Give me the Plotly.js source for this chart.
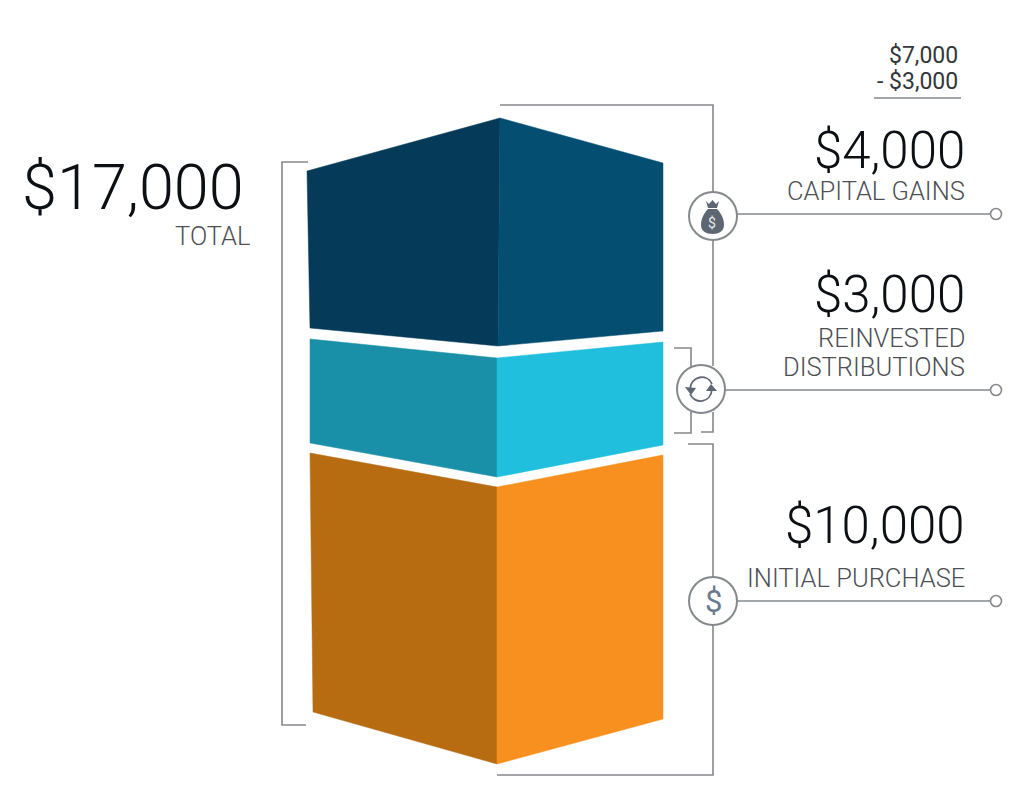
<!DOCTYPE html>
<html>
<head>
<meta charset="utf-8">
<script src="https://cdn.plot.ly/plotly-3.0.1.min.js"></script>
<style>html,body{margin:0;padding:0;background:#fff}#c{width:1024px;height:800px}</style>
</head>
<body>
<div id="c"></div>
<script>
// Segment faces
var faceNames = ['Capital gains left','Capital gains right','Reinvested left','Reinvested right','Purchase left','Purchase right'];
var faceColors = ['#053b58','#044e72','#1a90a8','#20bfde','#b76c12','#f7901e'];
var faceX = [
  [307,500,498,310],[500,663,663,498],
  [310,497,497,310],[497,663,663,497],
  [310,497,497,313],[497,663,663,497]
];
var faceY = [
  [171,118,346,328],[118,163,331,346],
  [339,358,477,443],[358,342,445,477],
  [453,487,764,712],[487,455,719,764]
];

// Bracket and connector lines
var lineGrey = '#85888c';
var linesX = [
  [308,282,282,306],
  [500,713,713],
  [674,691,691],
  [691,691,674],
  [713,713,701],
  [688,713,713,497],
  [737,992],[725,992],[737,992],
  [874,961]
];
var linesY = [
  [162,162,725,725],
  [105,105,366],
  [348,348,368],
  [412,433,433],
  [412,432,432],
  [444,444,775,775],
  [214,214],[390,390],[601,601],
  [98,98]
];

// Icon rings and end dots
var ringX = [713,701,713];
var ringY = [216,389,601];
var dotX = [996,996,996];
var dotY = [214,390,601];

// Text
var bigLabels = ['$17,000','$4,000','$3,000','$10,000'];
var bigX = [246,967,967,967];
var bigY = [187,150,294,525];
var bigSize = [63,51,51,51];
var smallLabels = ['TOTAL','CAPITAL GAINS','REINVESTED','DISTRIBUTIONS','INITIAL PURCHASE'];
var smallX = [252,967,967,967,967];
var smallY = [236,191,338,367,578];
var sumLabels = ['$7,000','- $3,000'];
var sumX = [960,960];
var sumY = [55,81];

var traces = [];
faceX.forEach(function(xs,i){
  traces.push({type:'scatter',mode:'lines',name:faceNames[i],x:xs.concat(xs[0]),y:faceY[i].concat(faceY[i][0]),
    fill:'toself',fillcolor:faceColors[i],line:{width:0.5,color:faceColors[i]},hoverinfo:'name'});
});
linesX.forEach(function(xs,i){
  traces.push({type:'scatter',mode:'lines',x:xs,y:linesY[i],line:{color:lineGrey,width:1.6},hoverinfo:'skip'});
});
traces.push({type:'scatter',mode:'markers',x:ringX,y:ringY,hoverinfo:'skip',
  marker:{symbol:'circle',size:48,color:'#ffffff',line:{color:lineGrey,width:2}}});
traces.push({type:'scatter',mode:'markers',x:dotX,y:dotY,hoverinfo:'skip',
  marker:{symbol:'circle',size:11,color:'#ffffff',line:{color:lineGrey,width:1.6}}});

var font = 'Roboto, "Liberation Sans", Arial, sans-serif';
var ann = [];
function t(text,x,y,size,color,weight){
  ann.push({text:text,x:x,y:y,xref:'x',yref:'y',xanchor:'right',yanchor:'middle',showarrow:false,
    font:{family:font,size:size,color:color,weight:weight}});
}
bigLabels.forEach(function(s,i){t(s,bigX[i],bigY[i],bigSize[i],'#0c0f13',300);});
smallLabels.forEach(function(s,i){t(s,smallX[i],smallY[i],25.5,'#4c4f53',300);});
sumLabels.forEach(function(s,i){t(s,sumX[i],sumY[i],23,'#33363a',400);});
// dollar icon and bag dollar
ann.push({text:'$',x:713,y:601,xref:'x',yref:'y',showarrow:false,xanchor:'center',yanchor:'middle',
  font:{family:font,size:31,color:'#6a7a8f',weight:400}});
ann.push({text:'$',x:712,y:223,xref:'x',yref:'y',showarrow:false,xanchor:'center',yanchor:'middle',
  font:{family:font,size:14,color:'#e8eaec'}});

var iconGrey = '#5d6672';
var shapes = [
  // money bag
  {type:'path',xref:'x',yref:'y',fillcolor:iconGrey,line:{width:0},
   path:'M 708 209 C 703 214 701 220 701 225 C 701 231 706 234 712.5 234 C 719 234 724 231 724 225 C 724 220 722 214 717 209 Z'},
  {type:'path',xref:'x',yref:'y',fillcolor:iconGrey,line:{width:0},
   path:'M 706 201 L 709 204 L 712.5 200 L 716 204 L 719 201 L 717 208 L 708 208 Z'},
  // refresh arrows
  {type:'path',xref:'x',yref:'y',line:{color:iconGrey,width:1.8},
   path:'M 690 389 C 691 376 707 373 712 384'},
  {type:'path',xref:'x',yref:'y',line:{color:iconGrey,width:1.8},
   path:'M 712 389 C 711 403 695 405 690 394'},
  {type:'path',xref:'x',yref:'y',fillcolor:iconGrey,line:{width:0},
   path:'M 685 387 L 696 388 L 691 395 Z'},
  {type:'path',xref:'x',yref:'y',fillcolor:iconGrey,line:{width:0},
   path:'M 706 391 L 717 391 L 711 384 Z'}
];

var layout = {
  width:1024,height:800,margin:{l:0,r:0,t:0,b:0,pad:0},
  paper_bgcolor:'#ffffff',plot_bgcolor:'#ffffff',showlegend:false,
  xaxis:{range:[0,1024],visible:false,fixedrange:true},
  yaxis:{range:[800,0],visible:false,fixedrange:true},
  annotations:ann,shapes:shapes
};
Plotly.newPlot('c',traces,layout,{displayModeBar:false,staticPlot:true});
</script>
</body>
</html>
